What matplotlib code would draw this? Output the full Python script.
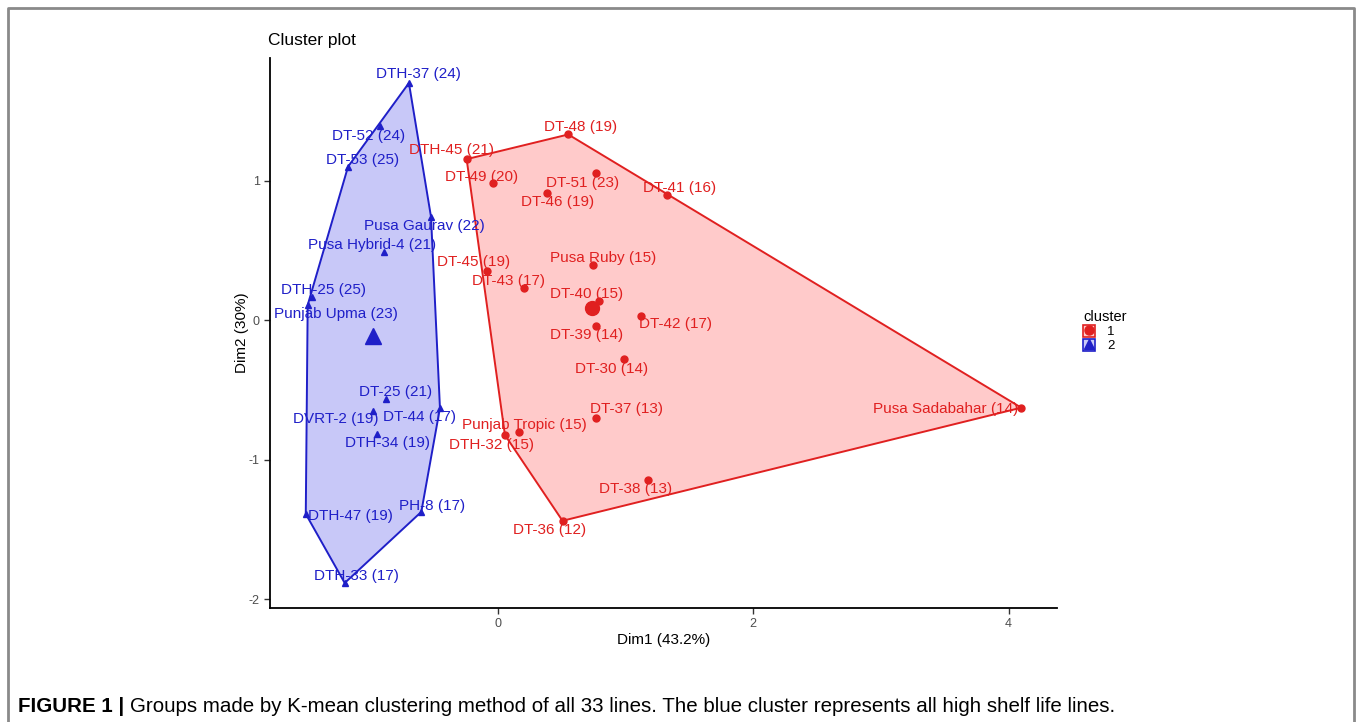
import numpy as np
import matplotlib
matplotlib.use("Agg")
import matplotlib.pyplot as plt
from matplotlib.lines import Line2D
from matplotlib.patches import Patch, Polygon
from matplotlib.legend_handler import HandlerTuple

plt.rcParams["font.family"] = ["Liberation Sans", "DejaVu Sans"]
plt.rcParams["axes.unicode_minus"] = False

# cluster 1 (red)
c1_names = ["DT-48 (19)", "DTH-45 (21)", "DT-49 (20)", "DT-51 (23)", "DT-46 (19)",
            "DT-41 (16)", "DT-45 (19)", "DT-43 (17)", "Pusa Ruby (15)", "DT-40 (15)",
            "DT-42 (17)", "DT-39 (14)", "DT-30 (14)", "DT-37 (13)", "Punjab Tropic (15)",
            "DTH-32 (15)", "DT-38 (13)", "DT-36 (12)", "Pusa Sadabahar (14)"]
c1_dim1 = [0.551, -0.245, -0.042, 0.765, 0.381, 1.328, -0.089, 0.204, 0.741, 0.791,
           1.119, 0.772, 0.989, 0.767, 0.164, 0.055, 1.172, 0.506, 4.099]
c1_dim2 = [1.331, 1.154, 0.980, 1.056, 0.913, 0.896, 0.354, 0.232, 0.394, 0.136,
           0.031, -0.043, -0.280, -0.705, -0.800, -0.824, -1.147, -1.439, -0.628]

# cluster 2 (blue)
c2_names = ["DTH-37 (24)", "DT-52 (24)", "DT-53 (25)", "Pusa Gaurav (22)", "Pusa Hybrid-4 (21)",
            "DTH-25 (25)", "Punjab Upma (23)", "DT-25 (21)", "DVRT-2 (19)", "DT-44 (17)",
            "DTH-34 (19)", "DTH-47 (19)", "PH-8 (17)", "DTH-33 (17)"]
c2_dim1 = [-0.697, -0.924, -1.174, -0.524, -0.892, -1.460, -1.490, -0.877, -0.980, -0.454,
           -0.950, -1.505, -0.600, -1.200]
c2_dim2 = [1.700, 1.390, 1.100, 0.740, 0.490, 0.165, 0.108, -0.566, -0.650, -0.630,
           -0.820, -1.390, -1.375, -1.885]

# label nudges in pixels (repelled text)
c1_offsets = [(12, 7), (-15, 9), (-11, 6), (-13, -10), (11, -9), (12, 7), (-13, 9), (-15, 7),
              (11, 7), (-12, 7), (35, -8), (-10, -9), (-13, -10), (31, 9), (6, 7),
              (-13, -10), (-12, -9), (-13, -9), (-76, -1)]
c2_offsets = [(10, 9), (-11, -10), (15, 7), (-7, -9), (-12, 7), (12, 7), (28, -9), (10, 7),
              (-37, -8), (-20, -9), (11, -9), (45, -2), (11, 6), (12, 7)]


def convex_hull(pts):
    pts = sorted(map(tuple, pts))

    def cross(o, a, b):
        return (a[0] - o[0]) * (b[1] - o[1]) - (a[1] - o[1]) * (b[0] - o[0])

    lower, upper = [], []
    for p in pts:
        while len(lower) >= 2 and cross(lower[-2], lower[-1], p) <= 0:
            lower.pop()
        lower.append(p)
    for p in reversed(pts):
        while len(upper) >= 2 and cross(upper[-2], upper[-1], p) <= 0:
            upper.pop()
        upper.append(p)
    return np.array(lower[:-1] + upper[:-1])


fig = plt.figure(figsize=(13.57, 7.22), dpi=100)
ax = fig.add_axes([270 / 1357, 1 - 608 / 722, 787 / 1357, 550 / 722])

clusters = [
    (c1_dim1, c1_dim2, c1_names, c1_offsets, "#e02020", "#ffcaca", "o", 5, 10),
    (c2_dim1, c2_dim2, c2_names, c2_offsets, "#1f1fc8", "#c8c8f8", "^", 5, 11),
]
handles = []
for xs, ys, names, offs, col, fill, mk, ms, cms in clusters:
    pts = np.column_stack([xs, ys])
    hull = convex_hull(pts)
    ax.add_patch(Polygon(hull, closed=True, facecolor=fill, edgecolor=col, lw=1.4, zorder=1))
    ax.plot(xs, ys, ls="none", marker=mk, ms=ms, color=col, zorder=3)
    ax.plot(np.mean(xs), np.mean(ys), ls="none", marker=mk, ms=cms, color=col, zorder=3)
    for x, y, name, (dx, dy) in zip(xs, ys, names, offs):
        ax.annotate(name, (x, y), xytext=(dx, dy), textcoords="offset pixels",
                    ha="center", va="center", fontsize=11, color=col, zorder=4)
    handles.append((Patch(facecolor=fill, edgecolor=col, lw=1.2),
                    Line2D([], [], ls="none", marker=mk, ms=6.5, color=col)))

allx = np.array(c1_dim1 + c2_dim1)
ally = np.array(c1_dim2 + c2_dim2)
padx = 0.05 * (allx.max() - allx.min())
pady = 0.05 * (ally.max() - ally.min())
ax.set_xlim(allx.min() - padx, allx.max() + padx)
ax.set_ylim(ally.min() - pady, ally.max() + pady)
ax.set_xticks([0, 2, 4])
ax.set_yticks([-2, -1, 0, 1])

for side in ["top", "right"]:
    ax.spines[side].set_visible(False)
for side in ["left", "bottom"]:
    ax.spines[side].set_linewidth(1.3)
ax.tick_params(length=4, width=1, color="#333333", labelcolor="#4d4d4d", labelsize=9)
ax.set_xlabel("Dim1 (43.2%)", fontsize=11, labelpad=2)
ax.set_ylabel("Dim2 (30%)", fontsize=11, labelpad=0)

fig.text(268 / 1357, 1 - 40 / 722, "Cluster plot", fontsize=12.5, va="center", ha="left")

leg = fig.legend(handles, ["1", "2"], title="cluster",
                 handler_map={tuple: HandlerTuple(ndivide=1, pad=0)},
                 loc="upper left", bbox_to_anchor=(1075 / 1357, 1 - 302 / 722),
                 frameon=False, fontsize=9.5, title_fontsize=10.5,
                 handlelength=0.95, handleheight=1.05, handletextpad=0.9,
                 labelspacing=0.05, borderaxespad=0.2)
leg._legend_box.align = "left"

# page frame and caption
frame_col = "#8a8a8a"
fig.add_artist(Line2D([8 / 1357, 8 / 1357, 1354 / 1357, 1354 / 1357],
                      [0, 1 - 8 / 722, 1 - 8 / 722, 0], color=frame_col, lw=2))
cap_y = 1 - 706 / 722
bold = fig.text(18 / 1357, cap_y, "FIGURE 1 |", fontsize=14.8, weight="bold",
                va="center", ha="left")
renderer = fig.canvas.get_renderer()
bb = bold.get_window_extent(renderer)
fig.text((bb.x1 + 6) / 1357, cap_y,
         "Groups made by K-mean clustering method of all 33 lines. "
         "The blue cluster represents all high shelf life lines.",
         fontsize=14.8, va="center", ha="left")

fig.savefig("out.png", dpi=100)
print("Saved to out.png")
